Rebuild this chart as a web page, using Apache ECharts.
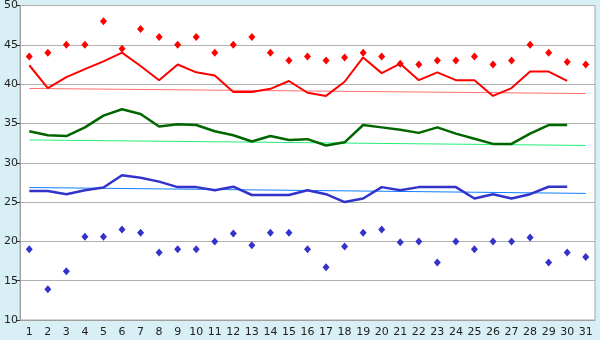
<!DOCTYPE html>
<html>
<head>
<meta charset="utf-8">
<script src="https://cdn.jsdelivr.net/npm/echarts@6/dist/echarts.min.js"></script>
<style>
  html, body { margin: 0; padding: 0; background: #d9eff6; }
  #container { width: 600px; height: 340px; }
</style>
</head>
<body>
<div id="container"></div>
<script>
var days = [];
for (var d = 1; d <= 31; d++) days.push(String(d));

var yTicks = [10, 15, 20, 25, 30, 35, 40, 45, 50];

var redDots = [43.5, 44, 45, 45, 48, 44.5, 47, 46, 45, 46, 44, 45, 46, 44, 43,
               43.5, 43, 43.4, 44, 43.5, 42.6, 42.5, 43, 43, 43.5, 42.5, 43, 45, 44, 42.8, 42.5];
var redLine = [42.4, 39.5, 40.9, 41.9, 42.9, 44, 42.3, 40.5, 42.5, 41.5, 41.1, 39, 39, 39.4, 40.4,
               38.9, 38.5, 40.3, 43.4, 41.4, 42.6, 40.5, 41.5, 40.5, 40.5, 38.5, 39.5, 41.6, 41.6, 40.4, null];
var greenLine = [34, 33.5, 33.4, 34.5, 36, 36.8, 36.2, 34.6, 34.9, 34.8, 34, 33.5, 32.7, 33.4, 32.9,
                 33, 32.2, 32.6, 34.8, 34.5, 34.2, 33.8, 34.5, 33.7, 33.05, 32.4, 32.4, 33.7, 34.8, 34.8, null];
var blueLine = [26.4, 26.4, 26, 26.5, 26.85, 28.4, 28.1, 27.6, 26.9, 26.9, 26.5, 26.95, 25.9, 25.9, 25.9,
                26.5, 26, 25, 25.45, 26.9, 26.5, 26.9, 26.9, 26.9, 25.45, 26, 25.45, 26, 26.95, 26.95, null];
var blueDots = [19, 13.9, 16.2, 20.6, 20.6, 21.5, 21.1, 18.6, 19, 19, 20, 21, 19.5, 21.1, 21.1,
                19, 16.7, 19.35, 21.1, 21.5, 19.9, 20, 17.3, 20, 19, 20, 20, 20.5, 17.3, 18.6, 18];

// trend lines: value at day 1 and at day 31
var redTrend = [39.45, 38.8];
var greenTrend = [32.9, 32.2];
var blueTrend = [26.85, 26.1];

function trendData(ends) {
  var arr = days.map(function () { return null; });
  arr[0] = ends[0];
  arr[arr.length - 1] = ends[1];
  return arr;
}

var dom = document.getElementById('container');
var myChart = echarts.init(dom);

function lineSeries(data, color, width, z) {
  return {
    type: 'line',
    data: data,
    symbol: 'none',
    connectNulls: true,
    lineStyle: { color: color, width: width },
    z: z,
    silent: true
  };
}

function dotSeries(data, color) {
  return {
    type: 'scatter',
    data: data,
    symbol: 'diamond',
    symbolSize: [7, 8],
    itemStyle: { color: color, opacity: 1 },
    z: 5
  };
}

var option = {
  backgroundColor: '#d9eff6',
  animation: false,
  grid: {
    left: 20, right: 5, top: 5, bottom: 20,
    show: true,
    backgroundColor: '#ffffff',
    borderColor: '#a8a8a8',
    borderWidth: 1
  },
  xAxis: {
    type: 'category',
    data: days,
    boundaryGap: true,
    axisLine: { lineStyle: { color: '#a0a0a0' } },
    axisTick: { alignWithLabel: true, length: 5, lineStyle: { color: '#333' } },
    axisLabel: { color: '#222', fontFamily: 'DejaVu Sans', fontSize: 11, margin: 7, interval: 0 }
  },
  yAxis: {
    type: 'value',
    min: yTicks[0],
    max: yTicks[yTicks.length - 1],
    interval: 5,
    axisLine: { show: true, lineStyle: { color: '#a0a0a0' } },
    axisTick: { show: true, length: 4, lineStyle: { color: '#333' } },
    axisLabel: { color: '#222', fontFamily: 'DejaVu Sans', fontSize: 11, margin: 2 },
    splitLine: { lineStyle: { color: '#b0b0b0' } }
  },
  series: [
    lineSeries(trendData(redTrend), '#ff7070', 1, 2),
    lineSeries(trendData(greenTrend), '#22ee77', 1, 2),
    lineSeries(trendData(blueTrend), '#1080ff', 1, 2),
    lineSeries(redLine, '#ff0000', 2, 3),
    lineSeries(greenLine, '#006600', 2.5, 3),
    lineSeries(blueLine, '#3333cc', 2.5, 3),
    dotSeries(redDots, '#ff0000'),
    dotSeries(blueDots, '#3333cc')
  ]
};
myChart.setOption(option, true);
</script>
</body>
</html>
